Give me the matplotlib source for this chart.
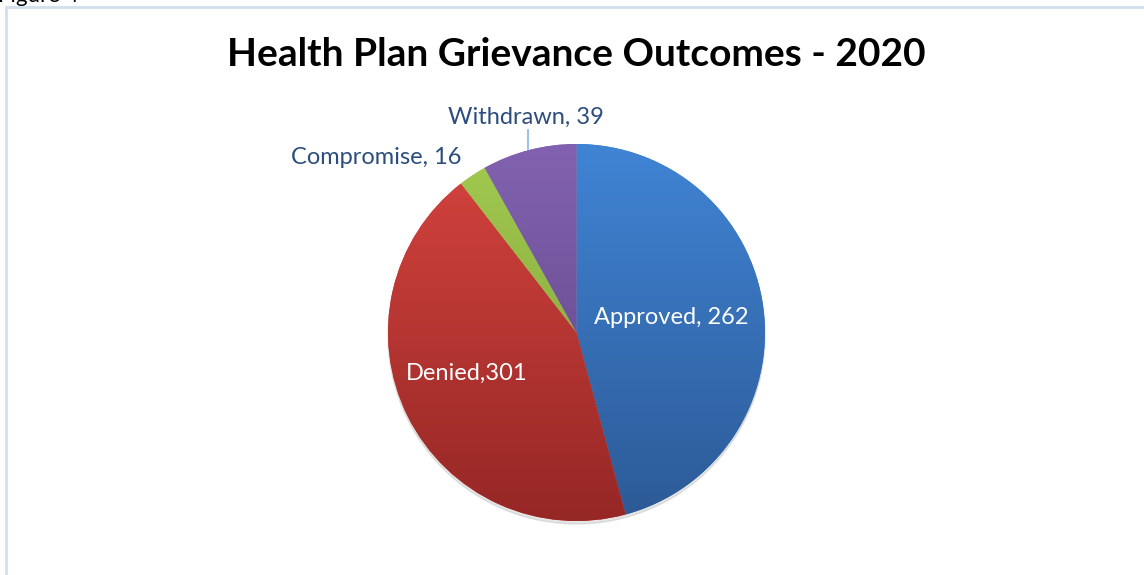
import numpy as np
import matplotlib.pyplot as plt
from matplotlib.colors import LinearSegmentedColormap
from matplotlib.patches import Rectangle, Circle

categories = ["Approved", "Denied", "Compromise", "Withdrawn"]
counts = [262, 301, 16, 39]
label_texts = ["Approved, 262", "Denied,301", "Compromise, 16", "Withdrawn, 39"]
# slice shares (%) as drawn in the picture
shares = [45.8, 43.7, 2.4, 8.1]
top_colors = ["#4084d4", "#d6443f", "#a2ca4f", "#8262b0"]
bottom_colors = ["#2c5a96", "#952725", "#7c9c39", "#5c4282"]

W, H = 1144, 575
fig = plt.figure(figsize=(W / 100, H / 100), dpi=100)
ax = fig.add_axes([0, 0, 1, 1])
ax.set_xlim(0, W)
ax.set_ylim(0, H)
ax.set_aspect("equal")
ax.axis("off")

plt.rcParams["font.family"] = ["Lato", "DejaVu Sans"]

cx, cy, r = 576.5, H - 332.5, 188.5

# chart border
ax.add_patch(Rectangle((6, -20), W + 20, H - 7 + 20, fill=False,
                       edgecolor="#d3dff0", linewidth=2))
# caption above the chart, cut off by the crop in the reference
ax.text(-2, H - 2, "Figure 4", fontsize=16, color="black", va="baseline")

# soft shadow
ax.add_patch(Circle((cx, cy - 3), r, color="#9a9a9a", alpha=0.25, zorder=1))

wedges, _ = ax.pie(shares, startangle=90, counterclock=False, center=(cx, cy),
                   radius=r, colors=top_colors, frame=True,
                   wedgeprops=dict(linewidth=0, zorder=2))
ax.set_xlim(0, W)
ax.set_ylim(0, H)
ax.axis("off")

# vertical gradient on each slice
grad = np.linspace(1, 0, 256).reshape(-1, 1)
for w, c1, c2 in zip(wedges, top_colors, bottom_colors):
    cmap = LinearSegmentedColormap.from_list("g", [c2, c1])
    im = ax.imshow(grad, cmap=cmap, extent=(cx - r, cx + r, cy - r, cy + r),
                   aspect="auto", zorder=3, origin="upper")
    im.set_clip_path(w)

ax.text(576, H - 55, "Health Plan Grievance Outcomes - 2020", fontsize=28,
        fontweight="bold", ha="center", va="center", color="black")

lab_pos = [(671, 318), (467, 373), (376, 158), (526, 117)]
lab_col = ["white", "white", "#2c4d7e", "#2c4d7e"]
for t, (x, y), c in zip(label_texts, lab_pos, lab_col):
    ax.text(x, H - y, t, fontsize=17, color=c, ha="center", va="center", zorder=5)

ax.plot([528, 528], [H - 130, H - 149], color="#8fb4e3", linewidth=1.2, zorder=5)

fig.savefig("out.png", dpi=100)
